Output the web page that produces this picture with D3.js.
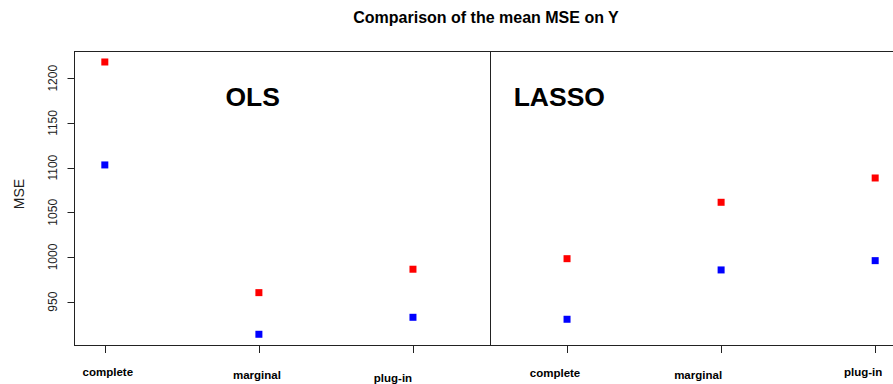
<!DOCTYPE html>
<html>
<head>
<meta charset="utf-8">
<script src="https://cdn.jsdelivr.net/npm/d3@7"></script>
<style>
  body { margin: 0; background: #fff; }
  svg { display: block; font-family: "Liberation Sans", Arial, sans-serif; }
</style>
</head>
<body>
<div id="chart"></div>
<script>
// data
var methods = ['complete', 'marginal', 'plug-in', 'complete', 'marginal', 'plug-in'];
var models = ['OLS', 'LASSO'];
var redValues = [1218.2, 960.1, 986.3, 998.1, 1061.2, 1088.4];
var blueValues = [1103.0, 913.5, 932.5, 930.3, 985.5, 995.9];
var yTicks = [950, 1000, 1050, 1100, 1150, 1200];

// layout bits (not data): hand placed labels like the original
var labelShift = [[3, 0], [-2, 3], [-20, 6], [-12, 1], [-23, 3], [-12, 0]];
var modelPos = [1.96, 3.95];

var width = 893, height = 384;
var margin = {top: 51, left: 74, bottom: 39, right: -13};

var svg = d3.select('#chart').append('svg')
  .attr('width', width)
  .attr('height', height);

var x = d3.scaleLinear()
  .domain([0.8, 6.2])
  .range([margin.left, width - margin.right]);

var y = d3.scaleLinear()
  .domain([901.5, 1230.5])
  .range([height - margin.bottom, margin.top]);

// title
svg.append('text')
  .attr('x', (x.range()[0] + x.range()[1]) / 2 - 4)
  .attr('y', 23)
  .attr('text-anchor', 'middle')
  .style('font-weight', 'bold')
  .style('font-size', '16px')
  .text('Comparison of the mean MSE on Y');

// box
svg.append('rect')
  .attr('x', x.range()[0] + 0.5)
  .attr('y', y.range()[1] + 0.5)
  .attr('width', x.range()[1] - x.range()[0])
  .attr('height', y.range()[0] - y.range()[1])
  .attr('fill', 'none')
  .attr('stroke', '#222');

// separator between the panels
svg.append('line')
  .attr('x1', Math.round(x(3.5)) + 0.5)
  .attr('x2', Math.round(x(3.5)) + 0.5)
  .attr('y1', y.range()[1])
  .attr('y2', y.range()[0])
  .attr('stroke', '#222');

// y axis
var yAxis = svg.append('g')
  .attr('transform', 'translate(' + (x.range()[0] + 0.5) + ',0)');
yAxis.append('line')
  .attr('y1', Math.round(y(yTicks[0])) + 0.5)
  .attr('y2', Math.round(y(yTicks[yTicks.length - 1])) + 0.5)
  .attr('stroke', '#222');
yAxis.selectAll('.ytick')
  .data(yTicks)
  .enter()
  .append('line')
  .attr('class', 'ytick')
  .attr('x1', -7)
  .attr('x2', 0)
  .attr('y1', function(d){ return Math.round(y(d)) + 0.5; })
  .attr('y2', function(d){ return Math.round(y(d)) + 0.5; })
  .attr('stroke', '#222');
yAxis.selectAll('.ylab')
  .data(yTicks)
  .enter()
  .append('text')
  .attr('class', 'ylab')
  .attr('transform', function(d){ return 'translate(-18,' + y(d) + ') rotate(-90)'; })
  .attr('text-anchor', 'middle')
  .style('font-size', '12px')
  .style('fill', '#222')
  .text(function(d){ return d; });

svg.append('text')
  .attr('transform', 'translate(24,194) rotate(-90)')
  .attr('text-anchor', 'middle')
  .style('font-size', '14px')
  .style('fill', '#222')
  .text('MSE');

// x ticks
svg.selectAll('.xtick')
  .data(methods)
  .enter()
  .append('line')
  .attr('class', 'xtick')
  .attr('x1', function(d, i){ return Math.round(x(i + 1)) + 0.5; })
  .attr('x2', function(d, i){ return Math.round(x(i + 1)) + 0.5; })
  .attr('y1', y.range()[0])
  .attr('y2', y.range()[0] + 8)
  .attr('stroke', '#222');

svg.selectAll('.xlab')
  .data(methods)
  .enter()
  .append('text')
  .attr('class', 'xlab')
  .attr('x', function(d, i){ return x(i + 1) + labelShift[i][0]; })
  .attr('y', function(d, i){ return y.range()[0] + 31 + labelShift[i][1]; })
  .attr('text-anchor', 'middle')
  .style('font-weight', 'bold')
  .style('font-size', '11.5px')
  .text(function(d){ return d; });

// panel names
svg.selectAll('.model')
  .data(models)
  .enter()
  .append('text')
  .attr('class', 'model')
  .attr('x', function(d, i){ return x(modelPos[i]); })
  .attr('y', 106)
  .attr('text-anchor', 'middle')
  .style('font-weight', 'bold')
  .style('font-size', '26.5px')
  .text(function(d){ return d; });

// points
var sq = 7;
var series = [{values: redValues, color: '#ff0000'}, {values: blueValues, color: '#0000ff'}];
series.forEach(function(s){
  svg.append('g').selectAll('rect')
    .data(s.values)
    .enter()
    .append('rect')
    .attr('x', function(d, i){ return x(i + 1) - sq / 2; })
    .attr('y', function(d){ return y(d) - sq / 2; })
    .attr('width', sq)
    .attr('height', sq)
    .attr('fill', s.color);
});
</script>
</body>
</html>
